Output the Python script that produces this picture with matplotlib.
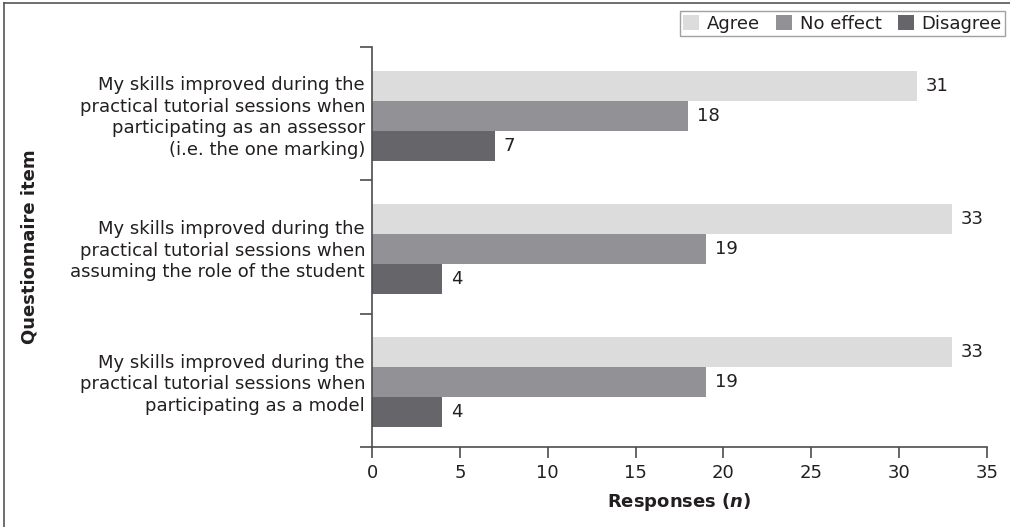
#!/usr/bin/env python3
"""Peer-assessment questionnaire responses, grouped horizontal bars"""
import numpy as np
import matplotlib
matplotlib.use("Agg")
import matplotlib.pyplot as plt
from matplotlib.lines import Line2D

plt.rcParams['font.family'] = ['DejaVu Sans']
plt.rcParams['mathtext.fontset'] = 'custom'
plt.rcParams['mathtext.bfit'] = 'DejaVu Sans:italic:bold'

items = [
    "My skills improved during the\npractical tutorial sessions when\nparticipating as an assessor\n(i.e. the one marking)",
    "My skills improved during the\npractical tutorial sessions when\nassuming the role of the student",
    "My skills improved during the\npractical tutorial sessions when\nparticipating as a model",
]
series = ["Agree", "No effect", "Disagree"]
agree = [31, 33, 33]
no_effect = [18, 19, 19]
disagree = [7, 4, 4]

colors = ['#dcdcdd', '#929296', '#66666a']
text_color = '#231f20'
axis_color = '#4d4d4f'
fs = 13

fig = plt.figure(figsize=(10.1, 5.27), dpi=100)
ax = fig.add_axes([372 / 1010, 1 - 447 / 527, 615 / 1010, 400 / 527])

y = np.arange(len(items))
bar_h = 0.225
for k, (vals, col) in enumerate(zip([agree, no_effect, disagree], colors)):
    pos = y + (k - 1) * bar_h + 0.015
    bars = ax.barh(pos, vals, height=bar_h, color=col, label=series[k])
    for bar, v in zip(bars, vals):
        ax.text(v + 0.5, bar.get_y() + bar.get_height() / 2, f'{v}',
                va='center', ha='left', fontsize=fs, color=text_color)

ax.set_xlim(0, 35)
ax.set_ylim(len(items) - 0.5, -0.5)
ax.set_xticks(np.arange(0, 36, 5))
ax.set_yticks(y)
ax.set_yticklabels(items, fontsize=fs, color=text_color, linespacing=1.25)
ax.tick_params(axis='y', length=0, pad=5)
# category separators on the y axis
ax.set_yticks(np.arange(-0.5, len(items)), minor=True)
ax.tick_params(axis='y', which='minor', length=9, color=axis_color, width=1.2)
ax.tick_params(axis='x', length=8, color=axis_color, width=1.2,
               labelsize=fs, labelcolor=text_color, pad=4)

for side in ['top', 'right']:
    ax.spines[side].set_visible(False)
for side in ['left', 'bottom']:
    ax.spines[side].set_color(axis_color)
    ax.spines[side].set_linewidth(1.2)

ax.set_xlabel(r'Responses ($\mathbfit{n}$)', fontsize=fs, fontweight='bold',
              color=text_color, labelpad=7)
fig.text(30 / 1010, 1 - 247 / 527, 'Questionnaire item', rotation=90,
         fontsize=13, fontweight='bold', color=text_color, ha='center', va='center')

leg = ax.legend(loc='upper right', bbox_to_anchor=(1005 / 1010, 1 - 11 / 527),
                bbox_transform=fig.transFigure, ncol=3, fontsize=fs,
                frameon=True, fancybox=False, handlelength=0.9, handleheight=0.9,
                handletextpad=0.4, columnspacing=0.9, borderpad=0.2,
                borderaxespad=0)
leg.get_frame().set_edgecolor('#8a8a8a')
leg.get_frame().set_linewidth(1.0)
for t in leg.get_texts():
    t.set_color(text_color)

# outer frame: top and left edges only
fig.add_artist(Line2D([4 / 1010, 1], [1 - 3 / 527, 1 - 3 / 527],
                      transform=fig.transFigure, color='#555555', lw=1.2))
fig.add_artist(Line2D([4 / 1010, 4 / 1010], [0, 1 - 3 / 527],
                      transform=fig.transFigure, color='#555555', lw=1.2))

fig.savefig('out.png', dpi=100)
